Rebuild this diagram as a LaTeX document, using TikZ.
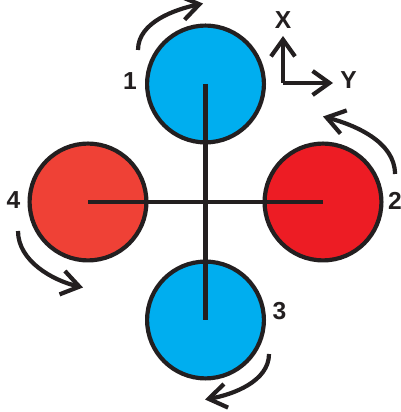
\documentclass[tikz,border=0pt]{standalone}
\usepackage{fontspec}
\setmainfont{Liberation Sans}
\usetikzlibrary{arrows.meta}
\definecolor{inkdark}{HTML}{231F20}
\definecolor{rotorblue}{HTML}{00AEEF}
\definecolor{rotorred}{HTML}{ED1C24}
\definecolor{rotorsalmon}{HTML}{EF4136}
\tikzset{
  rotor/.style={circle, draw=inkdark, line width=1.05mm, minimum size=29.2mm, inner sep=0pt},
  lbl/.style={inner sep=0pt, text=inkdark, font=\fontsize{17.5}{19}\selectfont\bfseries},
  arm/.style={draw=inkdark, line width=1.05mm},
  spin/.style={draw=inkdark, line width=1.05mm, -{Straight Barb[length=4.4mm, width=6mm]}},
  axisarrow/.style={spin, -{Straight Barb[length=4.2mm, width=6mm]}}
}

\begin{document}
\begin{tikzpicture}[x=0.25mm, y=0.25mm]
  \useasboundingbox (0,0) rectangle (400,412);

  % rotors
  \foreach \n/\x/\y/\c in {1/205.5/328/rotorblue, 2/323/210/rotorred,
                           3/205.5/92/rotorblue, 4/88/210/rotorsalmon}{
    \node[rotor, fill=\c] (rotor\n) at (\x,\y) {};
  }

  % frame arms
  \draw[arm] (rotor1.center) -- (rotor3.center);
  \draw[arm] (rotor4.center) -- (rotor2.center);

  % rotor numbers
  \node[lbl] (num1) at (130,330.5) {1};
  \node[lbl] (num2) at (395,211.5) {2};
  \node[lbl] (num3) at (279.5,100.5) {3};
  \node[lbl] (num4) at (13.5,211.5) {4};

  % spin directions
  \coordinate (s1) at (138,362);
  \coordinate (e1) at (203,408.5);
  \coordinate (s2) at (395,238);
  \coordinate (e2) at (323,295.5);
  \coordinate (s3) at (269,58);
  \coordinate (e3) at (205,12.5);
  \coordinate (s4) at (18,181);
  \coordinate (e4) at (83,124.5);
  \draw[spin] (s1) to[out=90, in=192, looseness=0.9] (e1);
  \draw[spin] (s2) to[out=90, in=-15, looseness=0.9] (e2);
  \draw[spin] (s3) to[out=-90, in=10, looseness=0.9] (e3);
  \draw[spin] (s4) to[out=-90, in=167, looseness=0.9] (e4);

  % body axes
  \coordinate (origin) at (283,329);
  \node[lbl] (axisX) at (283,391.5) {X};
  \node[lbl] (axisY) at (348.5,331.5) {Y};
  \coordinate (tipX) at (283,376);
  \coordinate (tipY) at (333,329);
  \draw[axisarrow] (origin) -- (tipX);
  \draw[axisarrow] (origin) -- (tipY);
\end{tikzpicture}
\end{document}
